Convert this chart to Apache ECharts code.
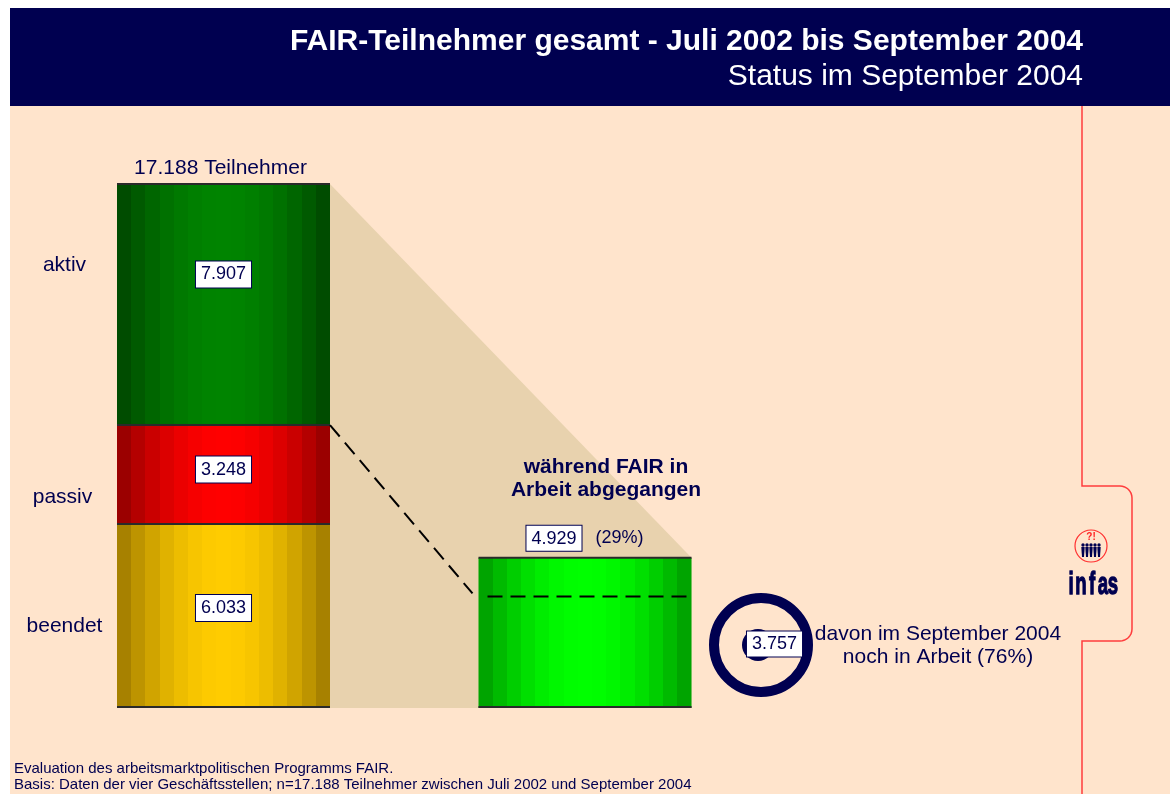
<!DOCTYPE html>
<html><head><meta charset="utf-8">
<script src="https://cdn.jsdelivr.net/npm/echarts@6/dist/echarts.min.js"></script>
<style>html,body{margin:0;padding:0;background:#fff}#c{width:1170px;height:794px}</style>
</head><body><div id="c"></div>
<script>
// ---- data ----
const categories = ['Teilnehmer gesamt', 'während FAIR in Arbeit abgegangen'];
const segmentNames = ['beendet', 'passiv', 'aktiv'];
const beendet = [6033, '-'];
const passiv = [3248, '-'];
const aktiv = [7907, '-'];
const abgegangen = ['-', 4929];
const nochInArbeit = [3757];
const totalTeilnehmer = [17188];

// ---- helpers ----
const NAVY = '#000050';
const FONT = '"Liberation Sans", Arial, sans-serif';
const BAR_W = 213;
function fmt(v) { const t = Math.floor(v / 1000), r = v % 1000; return t > 0 ? t + '.' + String(r).padStart(3, '0') : String(r); }
function hex(c) { return [parseInt(c.substr(1,2),16), parseInt(c.substr(3,2),16), parseInt(c.substr(5,2),16)]; }
function bands(edge, center, n) {
  const e = hex(edge), c = hex(center), stops = [];
  for (let i = 0; i < n; i++) {
    const t = Math.pow(Math.sin(Math.PI * (i + 0.5) / n), 0.9);
    const col = 'rgb(' + e.map((v, k) => Math.round(v + (c[k] - v) * t)).join(',') + ')';
    stops.push({ offset: i / n, color: col }, { offset: (i + 1) / n, color: col });
  }
  return { type: 'linear', x: 0, y: 0, x2: 1, y2: 0, colorStops: stops };
}
// frame line of the side tab (rounded corners)
function arcPts(cx, cy, r, a0, a1) {
  const pts = [];
  for (let i = 0; i <= 8; i++) { const a = a0 + (a1 - a0) * i / 8; pts.push([cx + r * Math.cos(a), cy + r * Math.sin(a)]); }
  return pts;
}
const tabPts = [[1082, 106], [1082, 486]]
  .concat(arcPts(1120, 498, 12, -Math.PI / 2, 0))
  .concat(arcPts(1120, 629, 12, 0, Math.PI / 2))
  .concat([[1082, 641], [1082, 794]]);

// logo lettering (condensed)
const logoLetters = ['i', 'n', 'f', 'a', 's'];
const logoX = [1071, 1081, 1092, 1103, 1113];

const boxStyle = { color: NAVY, fontSize: 18, fontFamily: FONT, backgroundColor: '#fff', borderColor: NAVY, borderWidth: 1, padding: [4, 5, 3, 5], lineHeight: 19 };

const total = totalTeilnehmer[0];
const abg = abgegangen[1];
const noch = nochInArbeit[0];

function segLabel(dy) {
  return Object.assign({ show: true, position: 'inside', offset: [0, dy], formatter: p => fmt(p.value) }, boxStyle);
}

const chart = echarts.init(document.getElementById('c'), null, { renderer: 'canvas' });

const option = {
  animation: false,
  backgroundColor: '#ffe4cc',
  grid: { left: 42.75, width: 723, top: 184, bottom: 86 },
  xAxis: { type: 'category', data: categories, show: false },
  yAxis: { type: 'value', min: 0, max: total, show: false },
  graphic: [
    { type: 'rect', shape: { x: 0, y: 0, width: 10, height: 794 }, style: { fill: '#fff' }, z: 0 },
    { type: 'rect', shape: { x: 0, y: 0, width: 1170, height: 8 }, style: { fill: '#fff' }, z: 0 },
    { type: 'rect', shape: { x: 10, y: 8, width: 1160, height: 98 }, style: { fill: NAVY }, z: 0 },
    { type: 'text', style: { text: 'FAIR-Teilnehmer gesamt - Juli 2002 bis September 2004', x: 1083, y: 57, textAlign: 'right', textVerticalAlign: 'bottom', fill: '#fff', font: 'bold 30px ' + FONT }, z: 1 },
    { type: 'text', style: { text: 'Status im September 2004', x: 1083, y: 92, textAlign: 'right', textVerticalAlign: 'bottom', fill: '#fff', font: '30px ' + FONT }, z: 1 },
    { type: 'polyline', shape: { points: tabPts }, style: { fill: 'none', stroke: '#ff3c3c', lineWidth: 1.5 }, z: 1 },
    { type: 'circle', shape: { cx: 1091, cy: 546, r: 16 }, style: { fill: 'none', stroke: '#ff3030', lineWidth: 1.2 }, z: 1 },
    { type: 'text', style: { text: '?!', x: 1091, y: 537, textAlign: 'center', textVerticalAlign: 'middle', fill: '#ff2020', font: 'bold 10px ' + FONT }, z: 1 },
    { type: 'group', children: [0, 1, 2, 3, 4].map(i => ({ type: 'group', children: [
      { type: 'circle', shape: { cx: 1083 + i * 4, cy: 545, r: 1.7 }, style: { fill: NAVY } },
      { type: 'polygon', shape: { points: [[1081.3 + i * 4, 547], [1084.7 + i * 4, 547], [1084 + i * 4, 557], [1082 + i * 4, 557]] }, style: { fill: NAVY } }
    ] })), z: 1 },
    { type: 'group', z: 1, children: logoLetters.map((ch, i) => ({
      type: 'text', x: logoX[i], y: 585, scaleX: 0.58,
      style: { text: ch, x: 0, y: 0, textAlign: 'center', textVerticalAlign: 'middle', fill: NAVY, stroke: NAVY, lineWidth: 1.3, font: 'bold 32px ' + FONT }
    })) },
    { type: 'text', style: { text: 'Evaluation des arbeitsmarktpolitischen Programms FAIR.', x: 14, y: 769, textVerticalAlign: 'middle', fill: NAVY, font: '15px ' + FONT }, z: 1 },
    { type: 'text', style: { text: 'Basis: Daten der vier Geschäftsstellen; n=' + fmt(total) + ' Teilnehmer zwischen Juli 2002 und September 2004', x: 14, y: 785, textVerticalAlign: 'middle', fill: NAVY, font: '15px ' + FONT }, z: 1 }
  ],
  series: [
    {
      type: 'custom', name: 'fläche', z: 1, silent: true, data: [[0, 0]],
      renderItem: function (params, api) {
        const xl = api.coord([0, 0])[0] + BAR_W / 2;
        const xr = api.coord([1, 0])[0] + BAR_W / 2;
        const yT = api.coord([0, total])[1];
        const yA = api.coord([1, abg])[1];
        const y0 = api.coord([0, 0])[1];
        return { type: 'polygon', shape: { points: [[xl, yT], [xr, yA], [xr, y0], [xl, y0]] }, style: { fill: '#e8d2ae' } };
      }
    },
    { type: 'bar', name: segmentNames[0], stack: 's', barWidth: BAR_W, data: beendet, itemStyle: { color: bands('#9a7600', '#ffcc00', 15) }, label: segLabel(-8) },
    { type: 'bar', name: segmentNames[1], stack: 's', barWidth: BAR_W, data: passiv, itemStyle: { color: bands('#8c0000', '#ff0000', 15) }, label: segLabel(-5) },
    { type: 'bar', name: segmentNames[2], stack: 's', barWidth: BAR_W, data: aktiv, itemStyle: { color: bands('#004400', '#008400', 15) }, label: segLabel(-30) },
    {
      type: 'bar', name: categories[1], stack: 's', barWidth: BAR_W, data: abgegangen,
      itemStyle: { color: bands('#009600', '#00ff00', 15) },
      label: {
        show: true, position: 'top', distance: 10,
        formatter: p => '{b|' + fmt(p.value) + '}{p|(' + Math.round(p.value / total * 100) + '%)}',
        rich: { b: boxStyle, p: { color: NAVY, fontSize: 18, fontFamily: FONT, padding: [0, 0, 0, 14] } }
      }
    },
    {
      type: 'custom', name: 'deko', z: 5, silent: true, data: [[0, 0]],
      renderItem: function (params, api) {
        const x0 = api.coord([0, 0])[0], x1 = api.coord([1, 0])[0];
        const y = v => api.coord([0, v])[1];
        const h = BAR_W / 2;
        const yT = y(total), y0 = y(0), yB = y(beendet[0]), yP = y(beendet[0] + passiv[0]);
        const yA = y(abg), yN = y(noch);
        const line = (a, b, c, d, dash) => ({ type: 'line', shape: { x1: a, y1: b, x2: c, y2: d }, style: { stroke: dash ? '#000' : '#2a2a2a', lineWidth: 2, lineDash: dash ? [15, 8] : null } });
        const txt = (s, x, yy, font, align) => ({ type: 'text', style: { text: s, x: x, y: yy, textAlign: align || 'center', textVerticalAlign: 'middle', fill: NAVY, font: font, lineHeight: 23 } });
        const rcx = x1 + 176, rcy = y0 - 63;
        return { type: 'group', children: [
          line(x0 - h, yT, x0 + h, yT), line(x0 - h, yP, x0 + h, yP), line(x0 - h, yB, x0 + h, yB), line(x0 - h, y0 - 1, x0 + h, y0 - 1),
          line(x1 - h, yA, x1 + h, yA), line(x1 - h, y0 - 1, x1 + h, y0 - 1),
          line(x0 + h, yP, x1 - h - 6, yN, true),
          line(x1 - h + 9, yN + 3, x1 + h, yN + 3, true),
          txt(fmt(total) + ' Teilnehmer', x0 - 3, yT - 16, '21px ' + FONT),
          txt(segmentNames[2], x0 - 159, yT + 81, '21px ' + FONT),
          txt(segmentNames[1], x0 - 161, yB - 27, '21px ' + FONT),
          txt(segmentNames[0], x0 - 159, y0 - 82, '21px ' + FONT),
          txt('während FAIR in\nArbeit abgegangen', x1 + 21, yA - 79, 'bold 21px ' + FONT),
          { type: 'circle', shape: { cx: rcx, cy: rcy, r: 47 }, style: { fill: 'none', stroke: NAVY, lineWidth: 10 } },
          { type: 'circle', shape: { cx: rcx - 3, cy: rcy, r: 16 }, style: { fill: NAVY } },
          { type: 'text', style: { text: fmt(noch), x: rcx + 13.5, y: rcy - 1, textAlign: 'center', textVerticalAlign: 'middle', fill: NAVY, font: '18px ' + FONT, backgroundColor: '#fff', borderColor: NAVY, borderWidth: 1, padding: [4, 5, 3, 5] } },
          txt('davon im September 2004\nnoch in Arbeit (' + Math.round(noch / abg * 100) + '%)', rcx + 177, rcy + 1, '21px ' + FONT)
        ] };
      }
    }
  ]
};
chart.setOption(option);
</script>
</body></html>
